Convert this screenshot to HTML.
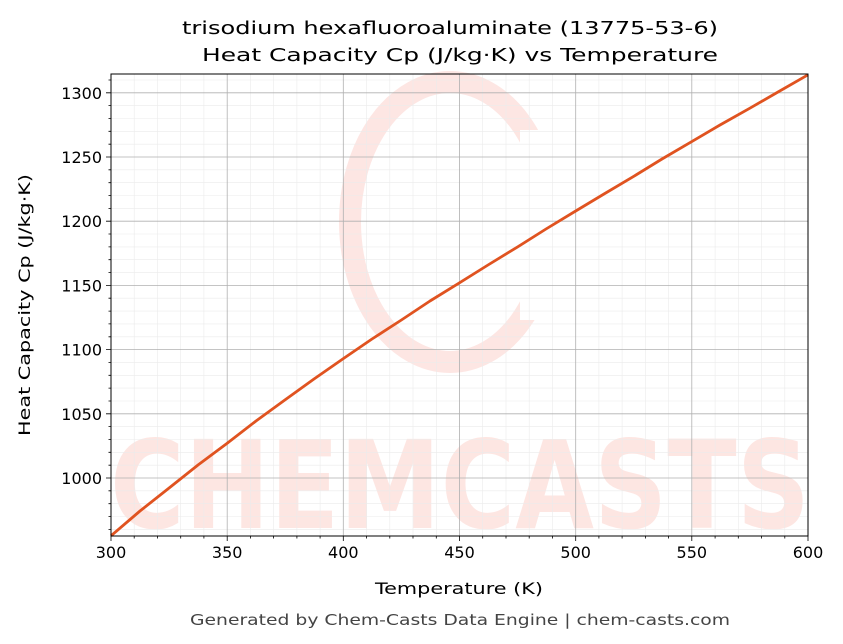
<!DOCTYPE html>
<html><head><style>body{margin:0;background:#fff}svg{display:block;font-family:"DejaVu Sans","Liberation Sans",sans-serif}</style></head>
<body>
<svg width="843" height="644" viewBox="0 0 843 644" xmlns="http://www.w3.org/2000/svg">
<rect width="843" height="644" fill="#fff"/>
<g opacity="0.8">
<ellipse cx="450" cy="222" rx="100" ry="140" fill="none" stroke="#fde0dc" stroke-width="22"/>
<rect x="520" y="130" width="60" height="190" fill="#fff"/>
<text x="460" y="528" font-size="122" font-weight="bold" fill="#fde0dc" text-anchor="middle" textLength="700" lengthAdjust="spacingAndGlyphs">CHEMCASTS</text>
</g>
<path fill="none" stroke="#ebebeb" stroke-width="0.6" d="M134.2 74V536M157.5 74V536M180.7 74V536M203.9 74V536M250.4 74V536M273.6 74V536M296.9 74V536M320.1 74V536M366.6 74V536M389.8 74V536M413 74V536M436.3 74V536M482.7 74V536M506 74V536M529.2 74V536M552.4 74V536M598.9 74V536M622.1 74V536M645.4 74V536M668.6 74V536M715.1 74V536M738.3 74V536M761.5 74V536M784.8 74V536
M111 529.4H808M111 516.5H808M111 503.7H808M111 490.8H808M111 465.2H808M111 452.3H808M111 439.5H808M111 426.6H808M111 401H808M111 388.1H808M111 375.3H808M111 362.4H808M111 336.8H808M111 323.9H808M111 311.1H808M111 298.2H808M111 272.6H808M111 259.7H808M111 246.9H808M111 234H808M111 208.4H808M111 195.5H808M111 182.7H808M111 169.8H808M111 144.2H808M111 131.3H808M111 118.5H808M111 105.6H808M111 80H808"/>
<path fill="none" stroke="#b0b0b0" stroke-width="0.8" d="M227.2 74V536M343.3 74V536M459.5 74V536M575.7 74V536M691.8 74V536M111 478H808M111 413.8H808M111 349.6H808M111 285.4H808M111 221.2H808M111 157H808M111 92.8H808"/>
<path fill="none" stroke="#000" stroke-width="0.8" d="M134.2 536v2.5M157.5 536v2.5M180.7 536v2.5M203.9 536v2.5M250.4 536v2.5M273.6 536v2.5M296.9 536v2.5M320.1 536v2.5M366.6 536v2.5M389.8 536v2.5M413 536v2.5M436.3 536v2.5M482.7 536v2.5M506 536v2.5M529.2 536v2.5M552.4 536v2.5M598.9 536v2.5M622.1 536v2.5M645.4 536v2.5M668.6 536v2.5M715.1 536v2.5M738.3 536v2.5M761.5 536v2.5M784.8 536v2.5
M111 536v5M227.2 536v5M343.3 536v5M459.5 536v5M575.7 536v5M691.8 536v5M808 536v5
M111 529.4h-2.5M111 516.5h-2.5M111 503.7h-2.5M111 490.8h-2.5M111 465.2h-2.5M111 452.3h-2.5M111 439.5h-2.5M111 426.6h-2.5M111 401h-2.5M111 388.1h-2.5M111 375.3h-2.5M111 362.4h-2.5M111 336.8h-2.5M111 323.9h-2.5M111 311.1h-2.5M111 298.2h-2.5M111 272.6h-2.5M111 259.7h-2.5M111 246.9h-2.5M111 234h-2.5M111 208.4h-2.5M111 195.5h-2.5M111 182.7h-2.5M111 169.8h-2.5M111 144.2h-2.5M111 131.3h-2.5M111 118.5h-2.5M111 105.6h-2.5M111 80h-2.5
M111 478h-5M111 413.8h-5M111 349.6h-5M111 285.4h-5M111 221.2h-5M111 157h-5M111 92.8h-5"/>
<g font-size="16" text-anchor="middle">
<text x="111" y="558">300</text><text x="227.2" y="558">350</text><text x="343.3" y="558">400</text><text x="459.5" y="558">450</text><text x="575.7" y="558">500</text><text x="691.8" y="558">550</text><text x="808" y="558">600</text>
</g>
<g font-size="16" text-anchor="end">
<text x="102" y="484">1000</text><text x="102" y="419.8">1050</text><text x="102" y="355.6">1100</text><text x="102" y="291.4">1150</text><text x="102" y="227.2">1200</text><text x="102" y="163">1250</text><text x="102" y="98.8">1300</text>
</g>
<polyline fill="none" stroke="#e05320" stroke-width="2.8" stroke-linejoin="round" points="111,535.8 140,511 169.1,488 198,465 227.2,443.3 256,421 285.2,399.7 314,379 343.3,358.6 372,339 401.4,320 430,301 459.5,282.8 488,265 517.6,246.9 546,229 575.7,211 604,194 633.8,176.3 662,159 691.8,141.6 720,125 749.9,108.2 778,92 808,74.8"/>
<rect x="111" y="74" width="697" height="462" fill="none" stroke="#000" stroke-width="1"/>
<text x="450" y="34" font-size="18" text-anchor="middle" textLength="536" lengthAdjust="spacingAndGlyphs">trisodium hexafluoroaluminate (13775-53-6)</text>
<text x="460" y="61" font-size="18" text-anchor="middle" textLength="516" lengthAdjust="spacingAndGlyphs">Heat Capacity Cp (J/kg·K) vs Temperature</text>
<text x="459" y="594" font-size="16" text-anchor="middle" textLength="168" lengthAdjust="spacingAndGlyphs">Temperature (K)</text>
<text transform="translate(30,305) rotate(-90)" font-size="16" text-anchor="middle" textLength="262" lengthAdjust="spacingAndGlyphs">Heat Capacity Cp (J/kg·K)</text>
<text x="460" y="625" font-size="15" fill="#444" text-anchor="middle" textLength="540" lengthAdjust="spacingAndGlyphs">Generated by Chem-Casts Data Engine | chem-casts.com</text>
</svg>
</body></html>
